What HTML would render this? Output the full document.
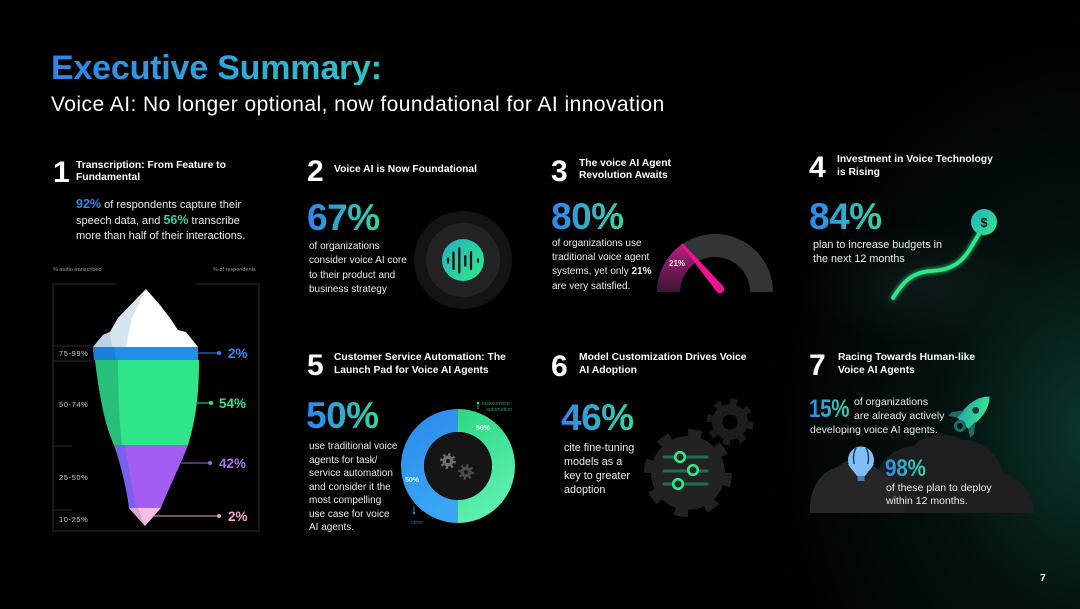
<!DOCTYPE html>
<html>
<head>
<meta charset="utf-8">
<style>
html,body{margin:0;padding:0;}
body{width:1080px;height:609px;overflow:hidden;position:relative;font-family:"Liberation Sans",sans-serif;color:#fff;
background:
radial-gradient(ellipse 330px 420px at 1090px 430px, rgba(12,60,52,0.9), rgba(8,38,34,0.45) 45%, rgba(0,0,0,0) 100%),
radial-gradient(ellipse 120px 60px at 920px 285px, rgba(40,55,55,0.35), rgba(0,0,0,0) 100%),
#000;}
.a{position:absolute;white-space:nowrap;}
.grad{background:linear-gradient(90deg,#2b86f0,#33d8a4);-webkit-background-clip:text;background-clip:text;color:transparent;}
.num{font-weight:bold;font-size:30px;line-height:30px;}
.tt{font-weight:bold;font-size:10.3px;color:#fff;}
.big{font-weight:bold;font-size:37px;line-height:37px;letter-spacing:-0.5px;}
.body{font-size:10px;color:#ececec;}
svg{position:absolute;left:0;top:0;}
</style>
</head>
<body>
<svg width="1080" height="609" viewBox="0 0 1080 609">
<defs>
<linearGradient id="gIcon" x1="0" y1="0" x2="1" y2="1"><stop offset="0" stop-color="#1fb2c0"/><stop offset="1" stop-color="#34e88a"/></linearGradient>
<linearGradient id="gMag" x1="0" y1="0" x2="0" y2="1"><stop offset="0" stop-color="#b81f80"/><stop offset="1" stop-color="#3a1434"/></linearGradient>
<linearGradient id="gDol" x1="0" y1="0" x2="1" y2="1"><stop offset="0" stop-color="#1fb2c0"/><stop offset="1" stop-color="#34e88a"/></linearGradient>
<linearGradient id="gGreen" x1="0" y1="0" x2="0.3" y2="1"><stop offset="0" stop-color="#2bd884"/><stop offset="1" stop-color="#5ef0b0"/></linearGradient>
<linearGradient id="gBlue" x1="0" y1="0" x2="0.3" y2="1"><stop offset="0" stop-color="#2a88ee"/><stop offset="1" stop-color="#3aa6f4"/></linearGradient>
<linearGradient id="gRocket" x1="0" y1="1" x2="1" y2="0"><stop offset="0" stop-color="#1fa8a8"/><stop offset="1" stop-color="#3ef08a"/></linearGradient>
<filter id="glow" x="-50%" y="-50%" width="200%" height="200%"><feGaussianBlur stdDeviation="2.5" result="b"/><feMerge><feMergeNode in="b"/><feMergeNode in="SourceGraphic"/></feMerge></filter>
</defs>

<!-- Section 1 frame -->
<g stroke="#2e2e2e" stroke-width="1" fill="none">
<polyline points="116,284 53,284 53,531 259,531 259,284 196,284"/>
<line x1="53" y1="346" x2="90" y2="346"/>
<line x1="53" y1="361" x2="92" y2="361"/>
<line x1="53" y1="446" x2="72" y2="446"/>
<line x1="53" y1="510" x2="72" y2="510"/>
</g>
<!-- iceberg -->
<polygon points="93,347 103,335 110,332 118,318 146,289 160,305 170,318 178,330 186,332 198,347" fill="#ffffff"/>
<polygon points="93,347 103,335 110,332 118,318 146,289 132,318 126,347" fill="#d5e4ef"/>
<polygon points="93,347 103,335 110,332 112,347" fill="#bcd2e4"/>
<polygon points="93,347 198,347 198,360 94,360" fill="#1f8fe8"/>
<polygon points="93,347 114,347 116,360 94,360" fill="#1a7fd6"/>
<path d="M95,360 L199,360 C199,390 197,415 188,445 L114,445 C105,425 100,400 95,360 Z" fill="#2ee58a"/>
<path d="M95,360 L118,360 C118,390 119,420 122,445 L114,445 C105,425 100,400 95,360 Z" fill="#27bf79"/>
<path d="M114,445 L188,445 C182,462 170,485 161,508 L129,508 C127,490 121,465 114,445 Z" fill="#a45cf2"/>
<path d="M114,445 L125,445 C129,470 133,490 136,508 L129,508 C127,490 121,465 114,445 Z" fill="#7a60ee"/>
<polygon points="129,508 161,508 145,526" fill="#f3bfe0"/>
<polygon points="129,508 138,508 145,526" fill="#e2a6cf"/>
<!-- label lines -->
<g stroke-width="1">
<line x1="198" y1="353" x2="219" y2="353" stroke="#2a8cf0"/><circle cx="219" cy="353" r="2" fill="#2a8cf0"/>
<line x1="197" y1="403" x2="211" y2="403" stroke="#2ee58a"/><circle cx="211" cy="403" r="2" fill="#2ee58a"/>
<line x1="181" y1="463" x2="210" y2="463" stroke="#a862f0"/><circle cx="210" cy="463" r="2" fill="#a862f0"/>
<line x1="152" y1="516" x2="219" y2="516" stroke="#e8a6cc"/><circle cx="219" cy="516" r="2" fill="#e8a6cc"/>
</g>
<g font-family="Liberation Sans, sans-serif" fill="#9a9a9a" font-size="5.5">
<text x="53" y="271">% audio transcribed</text>
<text x="213" y="271">% of respondents</text>
</g>
<g font-family="Liberation Sans, sans-serif" fill="#c8c8c8" font-size="7.5" letter-spacing="0.6">
<text x="59" y="356">75-99%</text>
<text x="59" y="407">50-74%</text>
<text x="59" y="480">25-50%</text>
<text x="59" y="522">10-25%</text>
</g>
<g font-family="Liberation Sans, sans-serif" font-weight="bold" font-size="13.5">
<text x="228" y="358" fill="#2a8cf0">2%</text>
<text x="219" y="408" fill="#2ee58a">54%</text>
<text x="219" y="468" fill="#b070f2">42%</text>
<text x="228" y="521" fill="#f0aad2">2%</text>
</g>

<!-- Section 2 icon -->
<circle cx="463" cy="260" r="49" fill="#141416"/>
<circle cx="463" cy="260" r="37" fill="#232326"/>
<circle cx="463" cy="260" r="21" fill="url(#gIcon)"/>
<g stroke="#0a0a0a" stroke-width="2.2" stroke-linecap="round">
<line x1="448" y1="258.5" x2="448" y2="262.5"/>
<line x1="453.5" y1="252.5" x2="453.5" y2="269"/>
<line x1="459.3" y1="248.5" x2="459.3" y2="272.5"/>
<line x1="465.3" y1="256" x2="465.3" y2="265.5"/>
<line x1="471" y1="252" x2="471" y2="269"/>
<line x1="478" y1="259.5" x2="478" y2="261.5"/>
</g>

<!-- Section 3 gauge -->
<path d="M657,292 A58,58 0 0 1 773,292 L750,292 A35,35 0 0 0 680,292 Z" fill="#333437"/>
<path d="M657,292 A58,58 0 0 1 681.7,244.5 L694.9,263.3 A35,35 0 0 0 680,292 Z" fill="url(#gMag)"/>
<polygon points="723.3,286.2 716.7,291.8 681.2,244.8 682.8,243.2" fill="#f0128e"/>
<circle cx="720" cy="289" r="4.3" fill="#f0128e"/>
<text x="669" y="266" font-family="Liberation Sans, sans-serif" font-weight="bold" font-size="8" fill="#f4e6ee">21%</text>

<!-- Section 4 curve -->
<path d="M893,298 C903,282 912,272 932,271 C952,270 962,262 970,249 L979,234" fill="none" stroke="#2ee88a" stroke-width="3.8" stroke-linecap="round" filter="url(#glow)"/>
<circle cx="984" cy="222" r="13" fill="url(#gDol)"/>
<text x="984" y="227" text-anchor="middle" font-family="Liberation Sans, sans-serif" font-weight="bold" font-size="13" fill="#0c1a16">$</text>

<!-- Section 5 donut -->
<path d="M458,409 A57,57 0 0 1 458,523 L458,500 A34,34 0 0 0 458,432 Z" fill="url(#gGreen)"/>
<path d="M458,409 A57,57 0 0 0 458,523 L458,500 A34,34 0 0 1 458,432 Z" fill="url(#gBlue)"/>
<circle cx="458" cy="466" r="34" fill="#151516"/>
<g>
<circle cx="448" cy="461" r="6.5" fill="none" stroke="#6e6e6e" stroke-width="3" stroke-dasharray="2.2 2.9"/>
<circle cx="448" cy="461" r="5.5" fill="#6e6e6e"/>
<circle cx="448" cy="461" r="2" fill="#151516"/>
<circle cx="466" cy="472" r="6.5" fill="none" stroke="#4a4a4a" stroke-width="3" stroke-dasharray="2.2 2.9"/>
<circle cx="466" cy="472" r="5.5" fill="#4a4a4a"/>
<circle cx="466" cy="472" r="2" fill="#151516"/>
</g>
<g font-family="Liberation Sans, sans-serif" font-weight="bold" font-size="7" fill="#e6f6ee">
<text x="476" y="430">50%</text>
<text x="405" y="482">50%</text>
</g>
<line x1="478" y1="403" x2="478" y2="409" stroke="#2ee58a" stroke-width="0.8"/>
<circle cx="478" cy="403" r="1.2" fill="#2ee58a"/>
<line x1="414" y1="506" x2="414" y2="513" stroke="#2a8cf0" stroke-width="0.8"/>
<circle cx="414" cy="513" r="1.2" fill="#2a8cf0"/>
<g font-family="Liberation Sans, sans-serif" font-size="5.3" fill="#3c8a68">
<text x="482" y="405">task/service</text>
<text x="486" y="411">automation</text>
</g>
<text x="411" y="524" font-family="Liberation Sans, sans-serif" font-size="5.3" fill="#2c6aa8">other</text>

<!-- Section 6 gears -->
<circle cx="730" cy="422" r="20" fill="none" stroke="#1d1d1f" stroke-width="7" stroke-dasharray="7 8.7"/>
<circle cx="730" cy="422" r="18" fill="#1d1d1f"/>
<circle cx="730" cy="422" r="7.5" fill="#000"/>
<circle cx="688" cy="473" r="39" fill="none" stroke="#222224" stroke-width="10" stroke-dasharray="13 17.6"/>
<circle cx="688" cy="473" r="37" fill="#222224"/>
<g stroke="#1d7048" stroke-width="3" stroke-linecap="round">
<line x1="664" y1="457" x2="707" y2="457"/>
<line x1="664" y1="471" x2="707" y2="471"/>
<line x1="664" y1="484" x2="707" y2="484"/>
</g>
<g fill="#222224" stroke="#2ee88a" stroke-width="2.6">
<circle cx="680" cy="457" r="4.8"/>
<circle cx="693" cy="470" r="4.8"/>
<circle cx="678" cy="484" r="4.8"/>
</g>

<!-- Section 7 cloud, rocket, balloon -->
<path d="M810,513 C809,492 818,472 838,467 C848,456 868,458 878,470 C886,454 902,446 914,446 C924,433 950,431 962,440 C985,440 1000,458 1004,474 C1020,478 1034,494 1034,513 Z" fill="#1e1e20"/>
<path d="M810,513 C809,492 818,472 838,467 C848,456 868,458 878,470 C892,475 902,492 905,513 Z" fill="#262628"/>
<g transform="translate(972,414) rotate(45) scale(1.3)">
<path d="M0,-19 C7,-12 8,-2 6,10 L-6,10 C-8,-2 -7,-12 0,-19 Z" fill="url(#gRocket)"/>
<path d="M-6,2 L-12,10 L-12,14 L-6,10 Z" fill="#1c6e66"/>
<path d="M6,2 L12,10 L12,14 L6,10 Z" fill="#1c6e66"/>
<circle cx="0" cy="-4" r="2.6" fill="#0f3a35"/>
</g>
<circle cx="960" cy="426" r="4.5" fill="none" stroke="#1c6e66" stroke-width="3"/>
<ellipse cx="861" cy="460" rx="13" ry="13.5" fill="#7fbff6"/>
<path d="M856,448 C852,455 853,466 858,473 M866,448 C870,455 869,466 864,473" fill="none" stroke="#1a3a5a" stroke-width="1.4"/>
<path d="M848,464 L857,476 L865,476 L874,464" fill="#7fbff6"/>
<rect x="857.5" y="476" width="7" height="5" fill="#4a7fae"/>

<!-- page number -->
<text x="1040" y="581" font-family="Liberation Sans, sans-serif" font-weight="bold" font-size="10.5" fill="#fff">7</text>
</svg>

<!-- Header -->
<div class="a" style="left:51px;top:51px;font-size:34px;line-height:34px;font-weight:bold;letter-spacing:-0.2px;background:linear-gradient(90deg,#2f84ee,#2ec6c4);-webkit-background-clip:text;background-clip:text;color:transparent;">Executive Summary:</div>
<div class="a" style="left:51px;top:93.5px;font-size:21px;line-height:21px;color:#fff;letter-spacing:0.45px;">Voice AI: No longer optional, now foundational for AI innovation</div>

<!-- Section 1 -->
<div class="a num" style="left:53px;top:158px;">1</div>
<div class="a tt" style="left:76px;top:160px;line-height:12px;">Transcription: From Feature to<br>Fundamental</div>
<div class="a" style="left:76px;top:197px;font-size:11px;line-height:15px;color:#ececec;"><b style="color:#2a8cf0;font-size:12.5px;">92%</b> of respondents capture their<br>speech data, and <b style="color:#2fd3a0;font-size:12.5px;">56%</b> transcribe<br>more than half of their interactions.</div>

<!-- Section 2 -->
<div class="a num" style="left:307px;top:157px;">2</div>
<div class="a tt" style="left:334px;top:164px;line-height:12px;">Voice AI is Now Foundational</div>
<div class="a big grad" style="left:307px;top:199px;">67%</div>
<div class="a body" style="left:309px;top:240px;line-height:14.3px;">of organizations<br>consider voice AI core<br>to their product and<br>business strategy</div>

<!-- Section 3 -->
<div class="a num" style="left:551px;top:157px;">3</div>
<div class="a tt" style="left:579px;top:158px;line-height:12px;">The voice AI Agent<br>Revolution Awaits</div>
<div class="a big grad" style="left:551px;top:198px;">80%</div>
<div class="a body" style="left:552px;top:237px;line-height:14.2px;">of organizations use<br>traditional voice agent<br>systems, yet only <b>21%</b><br>are very satisfied.</div>

<!-- Section 4 -->
<div class="a num" style="left:809px;top:153px;">4</div>
<div class="a tt" style="left:837px;top:154px;line-height:12.7px;">Investment in Voice Technology<br>is Rising</div>
<div class="a big grad" style="left:809px;top:198px;">84%</div>
<div class="a" style="left:813px;top:239px;font-size:10.8px;line-height:13.5px;color:#ececec;">plan to increase budgets in<br>the next 12 months</div>

<!-- Section 5 -->
<div class="a num" style="left:307px;top:351px;">5</div>
<div class="a tt" style="left:334px;top:351px;line-height:13px;">Customer Service Automation: The<br>Launch Pad for Voice AI Agents</div>
<div class="a big grad" style="left:306px;top:397px;">50%</div>
<div class="a body" style="left:309px;top:440px;line-height:13.5px;">use traditional voice<br>agents for task/<br>service automation<br>and consider it the<br>most compelling<br>use case for voice<br>AI agents.</div>

<!-- Section 6 -->
<div class="a num" style="left:551px;top:352px;">6</div>
<div class="a tt" style="left:579px;top:351px;line-height:13.3px;">Model Customization Drives Voice<br>AI Adoption</div>
<div class="a big grad" style="left:561px;top:399px;">46%</div>
<div class="a" style="left:564px;top:440.5px;font-size:10.8px;line-height:14.3px;color:#ececec;">cite fine-tuning<br>models as a<br>key to greater<br>adoption</div>

<!-- Section 7 -->
<div class="a num" style="left:809px;top:351px;">7</div>
<div class="a tt" style="left:838px;top:352px;line-height:12.5px;">Racing Towards Human-like<br>Voice AI Agents</div>
<div class="a grad" style="left:809px;top:397px;font-size:25px;line-height:25px;font-weight:bold;letter-spacing:-0.3px;transform:scaleX(0.82);transform-origin:0 0;">15%</div>
<div class="a" style="left:854px;top:395px;font-size:10.5px;line-height:14.3px;color:#ececec;">of organizations<br>are already actively</div>
<div class="a" style="left:810px;top:423px;font-size:10.5px;line-height:14.3px;color:#ececec;">developing voice AI agents.</div>
<div class="a grad" style="left:885px;top:457px;font-size:24px;line-height:24px;font-weight:bold;letter-spacing:-0.3px;transform:scaleX(0.86);transform-origin:0 0;">98%</div>
<div class="a" style="left:886px;top:481.5px;font-size:10.5px;line-height:13.5px;color:#ececec;">of these plan to deploy<br>within 12 months.</div>
</body>
</html>
